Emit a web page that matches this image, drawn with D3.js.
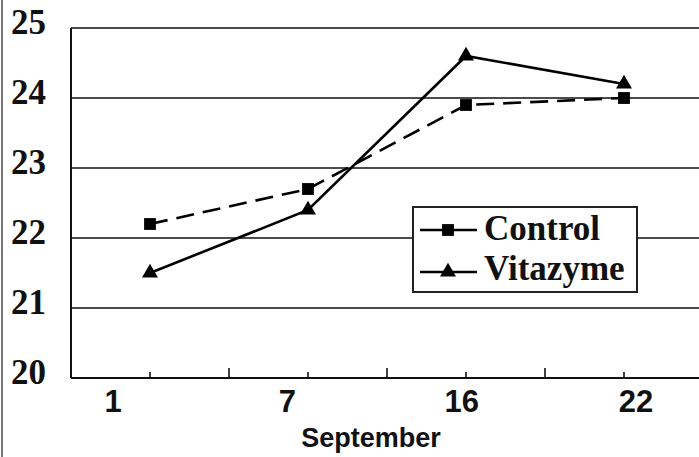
<!DOCTYPE html>
<html><head><meta charset="utf-8">
<script src="https://cdn.jsdelivr.net/npm/d3@7"></script>
<style>body{margin:0;background:#fff}svg{display:block}</style>
</head><body>
<svg id="c" width="699" height="457"></svg>
<script>
const categories = ["1", "7", "16", "22"];
const controlValues = [22.2, 22.7, 23.9, 24.0];
const vitazymeValues = [21.5, 22.4, 24.6, 24.2];
const yTicks = [20, 21, 22, 23, 24, 25];
const seriesNames = ["Control", "Vitazyme"];
const xTitle = "September";

const svg = d3.select("#c");
const mLeft = 71, mRight = 703, mTop = 28, mBottom = 378;
const x = d3.scaleBand().domain(categories).range([mLeft, mRight]).padding(0);
const xc = d => x(d) + x.bandwidth() / 2;
const y = d3.scaleLinear().domain([20, 25]).range([mBottom, mTop]);
const labelX = d3.scalePoint().domain(categories).range([113, 636]);

// image left border
svg.append("line").attr("x1", 2).attr("x2", 2).attr("y1", 0).attr("y2", 457)
  .attr("stroke", "#777").attr("stroke-width", 2);

// gridlines
svg.append("g").selectAll("line").data(yTicks.filter(v => v > 20)).join("line")
  .attr("x1", mLeft).attr("x2", 699).attr("y1", d => y(d)).attr("y2", d => y(d))
  .attr("stroke", "#111").attr("stroke-width", 1.6);

// y axis line and labels
svg.append("line").attr("x1", mLeft).attr("x2", mLeft).attr("y1", y(25)).attr("y2", y(20))
  .attr("stroke", "#111").attr("stroke-width", 2);
svg.append("g").selectAll("text").data(yTicks).join("text")
  .attr("x", 46).attr("y", d => y(d) + 6).attr("text-anchor", "end")
  .attr("font-family", "Liberation Serif, Times New Roman, serif").attr("font-weight", "bold")
  .attr("font-size", 35).attr("fill", "#111").text(d => d);

// x axis line and ticks
svg.append("line").attr("x1", mLeft).attr("x2", 699).attr("y1", mBottom).attr("y2", mBottom)
  .attr("stroke", "#111").attr("stroke-width", 2);
svg.append("g").selectAll("line.c").data(categories).join("line")
  .attr("x1", d => xc(d)).attr("x2", d => xc(d)).attr("y1", mBottom).attr("y2", mBottom - 6)
  .attr("stroke", "#111").attr("stroke-width", 1.6);
svg.append("g").selectAll("line.b").data(categories.slice(1)).join("line")
  .attr("x1", d => x(d)).attr("x2", d => x(d)).attr("y1", mBottom).attr("y2", mBottom - 10)
  .attr("stroke", "#111").attr("stroke-width", 1.6);
svg.append("g").selectAll("text").data(categories).join("text")
  .attr("x", d => labelX(d)).attr("y", 412).attr("text-anchor", "middle")
  .attr("font-family", "Liberation Sans, Arial, sans-serif").attr("font-weight", "bold")
  .attr("font-size", 31).attr("fill", "#111").text(d => d);
svg.append("text").attr("x", 371).attr("y", 447).attr("text-anchor", "middle")
  .attr("font-family", "Liberation Sans, Arial, sans-serif").attr("font-weight", "bold")
  .attr("font-size", 27).attr("fill", "#111").text(xTitle);

const line = d3.line().x((d, i) => xc(categories[i])).y(d => y(d));
svg.append("path").datum(controlValues).attr("d", line).attr("fill", "none")
  .attr("stroke", "#000").attr("stroke-width", 2.6).attr("stroke-dasharray", "18,9");
svg.append("path").datum(vitazymeValues).attr("d", line).attr("fill", "none")
  .attr("stroke", "#000").attr("stroke-width", 2.6);

const sq = d3.symbol().type(d3.symbolSquare).size(140);
const tri = d3.symbol().type(d3.symbolTriangle).size(110);
svg.append("g").selectAll("path").data(controlValues).join("path")
  .attr("d", sq).attr("transform", (d, i) => `translate(${xc(categories[i])},${y(d)})`).attr("fill", "#000");
svg.append("g").selectAll("path").data(vitazymeValues).join("path")
  .attr("d", tri).attr("transform", (d, i) => `translate(${xc(categories[i])},${y(d)})`).attr("fill", "#000");

// legend
const lg = svg.append("g");
lg.append("rect").attr("x", 413).attr("y", 207).attr("width", 224).attr("height", 85)
  .attr("fill", "#fff").attr("stroke", "#222").attr("stroke-width", 2);
const rows = [{name: seriesNames[0], sym: sq, ly: 230, ty: 240}, {name: seriesNames[1], sym: tri, ly: 272, ty: 280}];
rows.forEach(r => {
  lg.append("line").attr("x1", 420).attr("x2", 477).attr("y1", r.ly).attr("y2", r.ly)
    .attr("stroke", "#000").attr("stroke-width", 2.4);
  lg.append("path").attr("d", r.sym).attr("transform", `translate(448,${r.ly})`).attr("fill", "#000");
  lg.append("text").attr("x", 484).attr("y", r.ty)
    .attr("font-family", "Liberation Serif, Times New Roman, serif").attr("font-weight", "bold")
    .attr("font-size", 35).attr("fill", "#111").text(r.name);
});
</script>
</body></html>
